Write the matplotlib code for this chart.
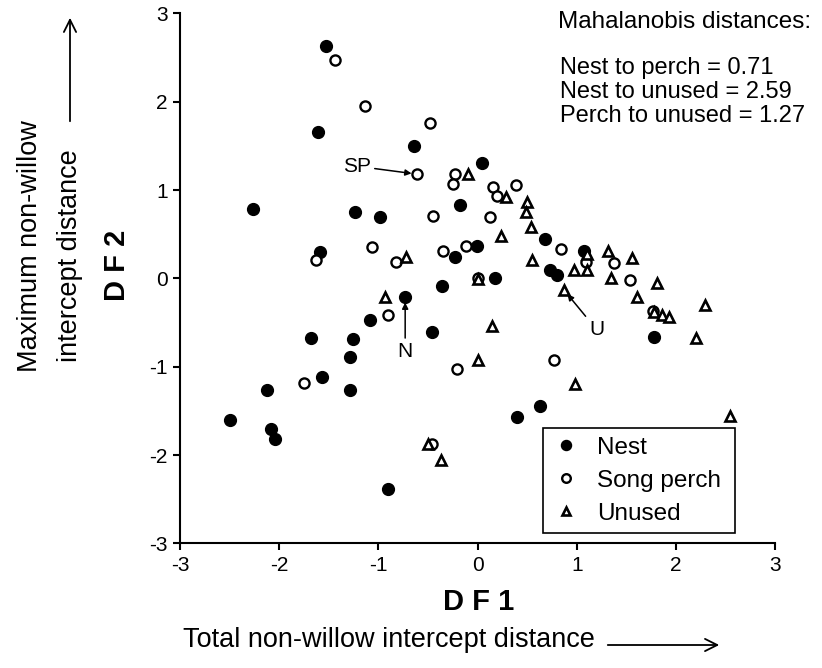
import matplotlib.pyplot as plt
from matplotlib.patches import FancyArrowPatch

plt.rcParams['font.family'] = ['Liberation Sans', 'DejaVu Sans']
plt.rcParams['axes.unicode_minus'] = False

# DF1 / DF2 scores
nest_x = [-1.53, -1.61, -0.64, 0.04, -2.26, -1.24, -0.98, -0.18, -1.59, -0.23, -0.01,
          0.68, 0.73, 0.80, 1.07, 0.18, -0.36, -0.73, -1.08, -1.68, -1.26, -0.46,
          -1.29, -1.57, -2.12, -1.29, -2.50, -2.08, -2.04, -0.90, 0.63, 0.40, 1.78]
nest_y = [2.63, 1.66, 1.50, 1.31, 0.79, 0.75, 0.69, 0.83, 0.30, 0.24, 0.37,
          0.45, 0.10, 0.04, 0.31, 0.00, -0.09, -0.21, -0.47, -0.67, -0.69, -0.61,
          -0.89, -1.12, -1.26, -1.26, -1.60, -1.70, -1.82, -2.38, -1.45, -1.57, -0.66]

perch_x = [-1.44, -1.13, -0.48, -0.61, -0.23, -0.25, 0.16, 0.20, 0.39, -0.45, 0.13,
           -1.63, -1.06, -0.82, -0.35, -0.12, 0.84, 0.00, 1.09, 1.38, 1.54, 1.77,
           -0.90, -0.21, -1.75, -0.46, 0.77]
perch_y = [2.47, 1.95, 1.76, 1.18, 1.18, 1.07, 1.03, 0.93, 1.06, 0.71, 0.69,
           0.21, 0.36, 0.19, 0.31, 0.37, 0.33, 0.00, 0.19, 0.17, -0.02, -0.37,
           -0.41, -1.03, -1.18, -1.88, -0.92]

unused_x = [-0.10, 0.29, 0.50, 0.49, 0.54, 0.24, -0.72, 0.55, 0.00, 1.10, 1.10,
            0.97, 1.31, 1.35, 1.56, 1.61, 1.81, 0.87, 1.78, 1.86, 1.93, 2.29, 2.20,
            -0.93, 0.15, 0.00, 0.98, 2.54, -0.50, -0.37]
unused_y = [1.18, 0.92, 0.87, 0.75, 0.58, 0.48, 0.24, 0.21, -0.01, 0.28, 0.10,
            0.09, 0.31, 0.00, 0.23, -0.21, -0.05, -0.13, -0.38, -0.41, -0.44, -0.30, -0.67,
            -0.21, -0.54, -0.92, -1.19, -1.56, -1.87, -2.06]

distances = ["Nest to perch = 0.71", "Nest to unused = 2.59", "Perch to unused = 1.27"]

fig = plt.figure(figsize=(8.22, 6.68), dpi=100)
ax = fig.add_axes([0.219, 0.1865, 0.724, 0.7935])

ax.plot(nest_x, nest_y, 'o', ms=8.5, color='black', label='Nest')
ax.plot(perch_x, perch_y, 'o', ms=7.3, mfc='white', mec='black', mew=1.7, label='Song perch')
ax.plot(unused_x, unused_y, '^', ms=7, mfc='white', mec='black', mew=1.9, label='Unused')

ax.set_xlim(-3, 3)
ax.set_ylim(-3, 3)
ax.set_xticks(range(-3, 4))
ax.set_yticks(range(-3, 4))
ax.spines['top'].set_visible(False)
ax.spines['right'].set_visible(False)
for s in ['left', 'bottom']:
    ax.spines[s].set_linewidth(1.5)
ax.tick_params(direction='out', length=5, width=1.5, labelsize=15, pad=4)

leg = ax.legend(loc='lower left', bbox_to_anchor=(0.61, 0.019, 0.322, 0.198), mode='expand',
                borderaxespad=0, fancybox=False, edgecolor='black', fontsize=17.5,
                handletextpad=0.66, labelspacing=0.45, borderpad=0.35, handlelength=1.2,
                markerscale=0.85)
leg.get_frame().set_linewidth(1.2)
leg.get_frame().set_alpha(1)

# labelled points
arw = dict(arrowstyle='-|>', color='black', lw=1.1, mutation_scale=9, shrinkA=1, shrinkB=4)
ax.annotate('SP', xy=(-0.61, 1.18), xytext=(-1.22, 1.27), fontsize=15, va='center', ha='center',
            arrowprops=arw)
ax.annotate('N', xy=(-0.73, -0.21), xytext=(-0.73, -0.83), fontsize=15, va='center', ha='center',
            arrowprops=arw)
ax.annotate('U', xy=(0.87, -0.13), xytext=(1.20, -0.58), fontsize=15, va='center', ha='center',
            arrowprops=arw)

fig.text(558 / 822, 1 - 22 / 668, 'Mahalanobis distances:', fontsize=17.5, va='center', ha='left')
for i, t in enumerate(distances):
    fig.text(560 / 822, 1 - (68 + 24 * i) / 668, t, fontsize=17, va='center', ha='left')

# axis titles
fig.text(479 / 822, 1 - 602 / 668, 'D F 1', fontsize=21, fontweight='bold', ha='center', va='center')
fig.text(183 / 822, 1 - 640 / 668, 'Total non-willow intercept distance', fontsize=19.5,
         ha='left', va='center')
fig.patches.append(FancyArrowPatch(
    (605 / 822, 1 - 645 / 668), (722 / 822, 1 - 645 / 668), transform=fig.transFigure,
    arrowstyle='->', mutation_scale=22, lw=1.3, color='black'))

fig.text(117 / 822, 1 - 265 / 668, 'D F 2', fontsize=21, fontweight='bold', rotation=90,
         ha='center', va='center')
fig.text(30 / 822, 1 - 246 / 668, 'Maximum non-willow', fontsize=19.5, rotation=90,
         ha='center', va='center')
fig.text(70 / 822, 1 - 256 / 668, 'intercept distance', fontsize=19.5, rotation=90,
         ha='center', va='center')
fig.patches.append(FancyArrowPatch(
    (70 / 822, 1 - 124 / 668), (70 / 822, 1 - 15 / 668), transform=fig.transFigure,
    arrowstyle='->', mutation_scale=22, lw=1.3, color='black'))

fig.savefig('out.png', dpi=100)
